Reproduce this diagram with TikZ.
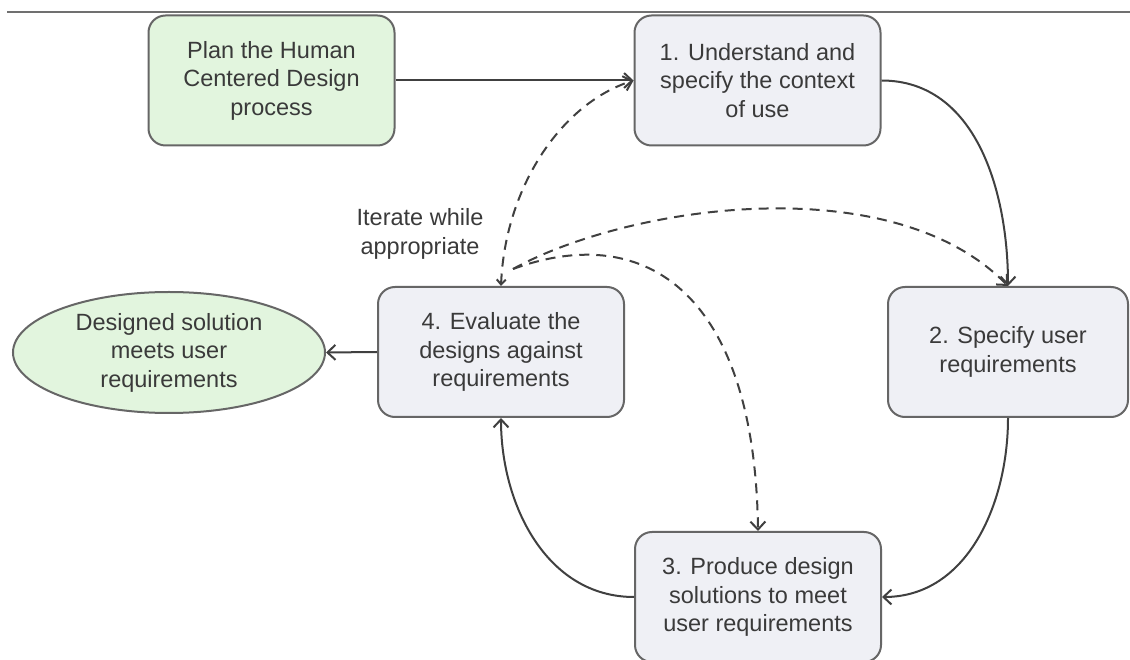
\documentclass[tikz,border=0pt]{standalone}
\usepackage{fontspec}
\setmainfont{Liberation Sans}
\usetikzlibrary{arrows.meta,shapes.geometric}
\definecolor{greenfill}{HTML}{E2F5DE}
\definecolor{boxfill}{HTML}{EFF0F5}
\definecolor{edge}{HTML}{666666}
\definecolor{ink}{HTML}{404040}
\definecolor{txt}{HTML}{3A3A3A}
\definecolor{rule}{HTML}{707070}
\begin{document}
\begin{tikzpicture}[x=1pt,y=1pt,
  textfont/.style={font=\fontsize{23.5}{28.5}\selectfont, text=txt, align=center},
  stepbox/.style={textfont, draw=edge, line width=2pt, rounded corners=17pt,
    minimum width=246pt, minimum height=130pt, inner sep=0pt},
  planbox/.style={stepbox, fill=greenfill},
  actbox/.style={stepbox, fill=boxfill},
  goalbox/.style={textfont, ellipse, draw=edge, line width=2pt, fill=greenfill,
    minimum width=312pt, minimum height=121pt, inner sep=0pt},
  flow/.style={draw=ink, line width=2pt, -{Straight Barb[length=8pt,width=15pt]}},
  iter/.style={flow, dash pattern=on 10pt off 7pt}
]
\useasboundingbox (0,0) rectangle (1130,659);
\clip (0,0) rectangle (1130,659);
\fill[white] (0,0) rectangle (1130,659);

% top rule
\coordinate (ruleA) at (7,647);
\coordinate (ruleB) at (1130,647);
\draw[rule, line width=2pt] (ruleA) -- (ruleB);

% nodes
\node[planbox] (plan) at (271.5,578.5) {Plan the Human\\Centered Design\\process};
\node[actbox] (s1) at (757.5,578.5) {1. Understand and\\specify the context\\of use};
\node[actbox, minimum width=240pt] (s2) at (1008,307) {2. Specify user\\requirements};
\node[actbox] (s3) at (758,62) {3. Produce design\\solutions to meet\\user requirements};
\node[actbox] (s4) at (501,307) {4. Evaluate the\\designs against\\requirements};
\node[goalbox] (goal) at (169,306.5) {Designed solution\\meets user\\requirements};
\node[textfont] (iterlabel) at (420,425) {Iterate while\\appropriate};

% solid flow
\draw[flow] (plan) -- (s1);
\draw[flow] (s1.east) to[out=0,in=90] (s2.north);
\draw[flow] (s2.south) to[out=-90,in=0] (s3.east);
\draw[flow] (s3.west) to[out=180,in=-90] (s4.south);
\draw[flow] (s4.west) -- (goal.east);

% iteration (dashed)
\coordinate (fork) at (513,390);
\draw[iter, {Straight Barb[length=5pt,width=9pt]}-{Straight Barb[length=8pt,width=15pt]}]
  (s4.north) .. controls (505,470) and (560,555) .. (s1.west);
\draw[iter] (fork) .. controls (629,454) and (892,492) .. (s2.north);
\draw[iter] (fork) .. controls (650,440) and (755,360) .. (s3.north);
\end{tikzpicture}
\end{document}
